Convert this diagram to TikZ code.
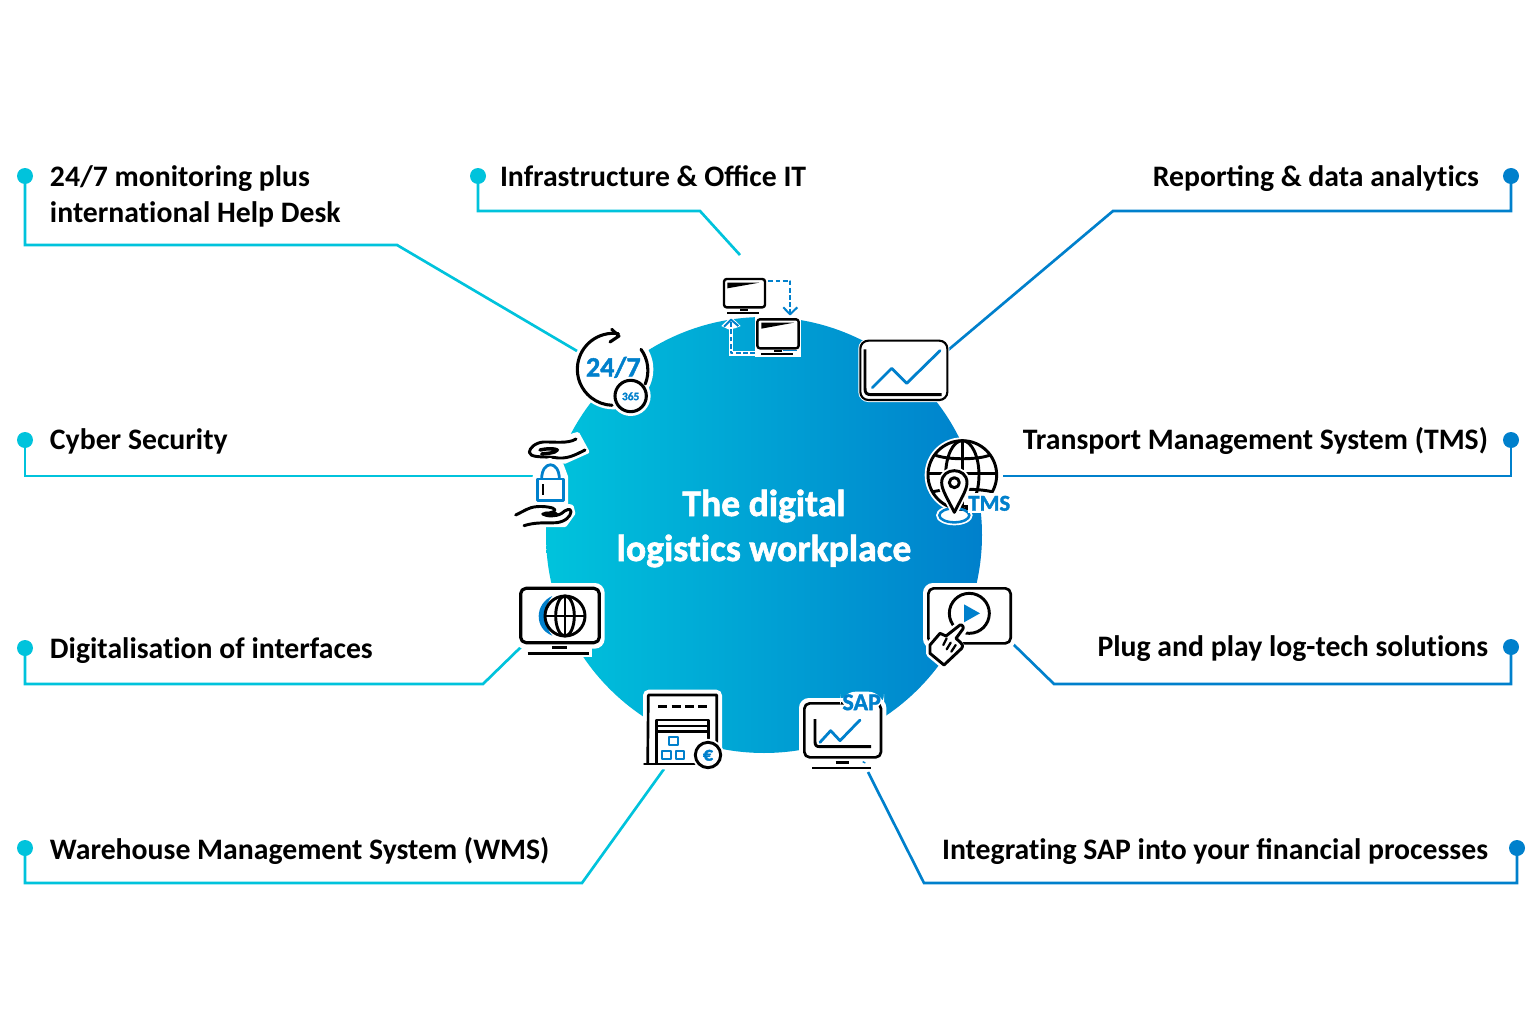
\documentclass[tikz,border=0pt]{standalone}
\usepackage{fontspec}
\setmainfont{Carlito}
\newfontfamily\icofont[BoldFeatures={FakeBold=1.6}]{Carlito}
\newcommand{\nl}{\kern0pt }
\definecolor{cy}{HTML}{00C3DC}
\definecolor{bl}{HTML}{0080CC}
\tikzset{
 x=0.75pt,y=-0.75pt,
 lab/.style={font=\fontsize{22.3}{27}\selectfont\bfseries,text=black,inner sep=0,outer sep=0},
 title/.style={font=\fontsize{28.2}{34}\icofont\selectfont\bfseries,text=white,inner sep=0},
 dotc/.style={circle,fill=cy,draw=none,minimum size=12pt,inner sep=0},
 dotb/.style={circle,fill=bl,draw=none,minimum size=12pt,inner sep=0},
 linec/.style={draw=cy,line width=2pt,line join=miter},
 lineb/.style={draw=bl,line width=2pt,line join=miter},
 ik/.style={draw=black,line width=2.2pt,line cap=round,line join=round},
 ib/.style={draw=bl,line width=2.1pt,line join=round},
 zm/.style={x=0.25pt,y=-0.25pt},
}
\begin{document}
\begin{tikzpicture}
\useasboundingbox (0,0) rectangle (1536,1024);
\fill[white] (0,0) rectangle (1536,1024);
\node[circle,minimum size=327pt,inner sep=0,left color=cy,right color=bl,draw=none] (hub) at (764,535) {};
\node[title] (t1) at (764,506) {The digital};
\node[title] (t2) at (764,551) {logist\nl ics workplace};

% dots
\node[dotc] (d1) at (25,176) {};
\node[dotc] (d2) at (478,176) {};
\node[dotb] (d3) at (1511,176) {};
\node[dotc] (d4) at (25,440) {};
\node[dotb] (d5) at (1511,440) {};
\node[dotc] (d6) at (25,648) {};
\node[dotb] (d7) at (1511,647) {};
\node[dotc] (d8) at (25,848) {};
\node[dotb] (d9) at (1517,848) {};
% connector ends
\coordinate (e1) at (577,351);
\coordinate (e2) at (740,255);
\coordinate (e3) at (947,351);
\coordinate (e4) at (533,476);
\coordinate (e5) at (1003,476);
\coordinate (e6) at (522,646);
\coordinate (e7) at (1013,644);
\coordinate (e8) at (664,769);
\coordinate (e9) at (868,772);
\draw[linec] (d1.center) -- (25,245) -- (397,245) -- (e1);
\draw[linec] (d2.center) -- (478,211) -- (700,211) -- (e2);
\draw[lineb] (d3.center) -- (1511,211) -- (1113,211) -- (e3);
\draw[linec] (d4.center) -- (25,476) -- (e4);
\draw[lineb] (d5.center) -- (1511,476) -- (e5);
\draw[linec] (d6.center) -- (25,684) -- (483,684) -- (e6);
\draw[lineb] (d7.center) -- (1511,684) -- (1054,684) -- (e7);
\draw[linec] (d8.center) -- (25,883) -- (582,883) -- (e8);
\draw[lineb] (d9.center) -- (1517,883) -- (924,883) -- (e9);

% labels
\node[lab,anchor=base west] (l1) at (50,186) {24/7 monitoring plus};
\node[lab,anchor=base west] (l1b) at (50,222) {internat\nl ional Help Desk};
\node[lab,anchor=base west] (l2) at (500,186) {Infrastructure \& Office IT};
\node[lab,anchor=base east] (l3) at (1479,186) {Reporting \& data analyt\nl ics};
\node[lab,anchor=base west] (l4) at (50,449) {Cyber Security};
\node[lab,anchor=base east] (l5) at (1488,449) {Transport Management System (TMS)};
\node[lab,anchor=base west] (l6) at (50,658) {Digitalisat\nl ion of interfaces};
\node[lab,anchor=base east] (l7) at (1488,656) {Plug and play log-tech solut\nl ions};
\node[lab,anchor=base west] (l8) at (50,859) {Warehouse Management System (WMS)};
\node[lab,anchor=base east] (l9) at (1488,859) {Integrat\nl ing SAP into your financial processes};

% ---- icons upper-left crop (24/7, lock)
\begin{scope}[shift={(500,260)},zm]
 \fill[white] (340,328) circle (120);
 \fill[white] (392,408) circle (60);
 \draw[ik,line width=2.3pt] (355,221) arc (-82:-268:108);
 \draw[ik,line width=2.3pt] (423,268) arc (-36:22:108);
 \draw[ik,line width=2.3pt] (335,208) -- (357,228) -- (330,246);
 \draw[ik,line width=2.3pt,fill=white] (392,408) circle (47);
 \node[text=bl,font=\fontsize{21}{23}\icofont\selectfont\bfseries,inner sep=0] (tf) at (340,322) {24/7};
 \node[text=bl,font=\fontsize{8.5}{9}\icofont\selectfont\bfseries,inner sep=0] (ty) at (392,409) {365};
 % hands
 \fill[white,draw=white,line width=3pt,line join=round] (205,530) -- (233,522) -- (262,575) -- (195,605) -- (85,595) -- (78,560) -- (120,535) -- cycle;
 \draw[ik] (228,537) .. controls (205,552) and (160,545) .. (130,546) .. controls (105,548) and (88,565) .. (88,577) .. controls (90,592) and (120,590) .. (160,592) .. controls (200,600) and (225,585) .. (255,570);
 \draw[ik,line width=2.6pt] (120,570) .. controls (140,565) and (165,565) .. (172,570) .. controls (165,580) and (140,580) .. (125,582);
 % lock
 \fill[white,draw=white,line width=3pt,line join=round] (104,650) -- (115,610) -- (150,600) -- (185,615) -- (198,650) -- (198,730) -- (104,730) -- cycle;
 \fill[white,draw=white,line width=3pt,line join=round] (40,770) -- (90,735) -- (170,730) -- (215,740) -- (220,760) -- (195,795) -- (120,795) -- (75,805) -- cycle;
 \draw[ib] (112,657) rectangle (190,722);
 \draw[ib] (125,657) .. controls (125,600) and (178,600) .. (178,657);
 \draw[ik,line width=1.6pt,line cap=butt] (130,672) -- (130,705);
 \draw[ik] (47,765) .. controls (75,752) and (85,742) .. (110,740) .. controls (130,738) and (165,742) .. (165,750) .. controls (165,758) and (140,760) .. (128,762) .. controls (140,770) and (170,770) .. (185,760) .. controls (195,750) and (213,742) .. (213,755) .. controls (212,770) and (195,785) .. (170,788) .. controls (140,790) and (110,785) .. (72,797);
 \draw[ik,line width=2.6pt] (135,760) -- (170,762);
\end{scope}

% ---- upper-right crop (monitors, chart, TMS)
\begin{scope}[shift={(700,260)},zm]
 % monitors
 \fill[white] (62,48) rectangle (205,170);
 \fill[white] (164,172) rectangle (303,290);
 \fill[white] (86,178) rectangle (100,287);
 \fill[white] (86,273) rectangle (175,287);
 \fill[white] (64,198) -- (93,170) -- (122,198) -- (105,205) -- (85,208) -- cycle;
 \draw[ib,line width=1.4pt,dash pattern=on 3.6pt off 1.8pt] (205,62) -- (270,62) -- (270,158);
 \draw[ib,line width=1.5pt] (250,142) -- (270,163) -- (292,142);
 \draw[ib,line width=1.4pt,dash pattern=on 3.6pt off 1.8pt] (165,280) -- (93,280) -- (93,184);
 \draw[ib,line width=1.5pt] (72,200) -- (93,179) -- (115,198);
 \draw[ik,line width=1.8pt,rounded corners=2pt] (72,57) rectangle (195,142);
 \fill[black] (82,68) -- (178,68) -- (82,85) -- cycle;
 \draw[ik,line width=1.4pt,line cap=butt] (120,150) -- (145,150);
 \draw[ik,line width=1.4pt,line cap=butt] (82,160) -- (178,160);
 \draw[ik,line width=1.8pt,rounded corners=2pt] (172,178) rectangle (296,265);
 \fill[black] (184,188) -- (282,188) -- (184,206) -- cycle;
 \draw[ik,line width=1.4pt,line cap=butt] (222,272) -- (245,272);
 \draw[ib,line width=1.0pt] (250,272) -- (290,272);
 \draw[ik,line width=1.4pt,line cap=butt] (183,282) -- (280,282);
 % chart
 \draw[black,line width=1.6pt,fill=white,rounded corners=6pt,preaction={draw=white,line width=3pt}] (481,242) rectangle (742,420);
 \draw[ik,line cap=butt] (495,268) -- (495,385) .. controls (495,400) and (500,404) .. (515,404) -- (725,404);
 \draw[ib,line cap=round] (517,383) -- (575,325) -- (620,370) -- (720,272);
 % TMS globe
 \fill[white] (787,645) circle (113);
 \fill[white] (763,766) ellipse (55 and 30);
 \draw[ik] (787,645) circle (103);
 \draw[ik] (787,645) ellipse (50 and 103);
 \draw[ik] (787,542) -- (787,748);
 \draw[ik] (705,585) .. controls (740,600) and (835,600) .. (870,585);
 \draw[ik] (686,640) -- (888,640);
 \draw[ik] (700,695) .. controls (740,685) and (835,685) .. (875,695);
 \draw[bl,line width=1.9pt] (763,766) ellipse (45 and 21);
 \draw[ik,fill=white,preaction={draw=white,line width=5pt}] (763,757) .. controls (745,720) and (725,690) .. (725,668) .. controls (725,620) and (801,620) .. (801,668) .. controls (801,690) and (781,720) .. (763,757) -- cycle;
 \draw[ik] (763,668) circle (15);
 \fill[white] (803,700) rectangle (935,760);
 \draw[ik,line cap=butt] (785,738) -- (805,738);
 \node[text=bl,font=\fontsize{17}{17}\icofont\selectfont\bfseries,inner sep=0] (tms) at (868,730) {TMS};
\end{scope}

% ---- lower-left crop (globe monitor, warehouse)
\begin{scope}[shift={(500,570)},zm]
 \draw[white,fill=white,line width=3pt,rounded corners=6pt] (50,45) rectangle (308,230);
 \fill[white] (75,228) rectangle (275,262);
 \draw[ik,line width=2.4pt,rounded corners=4pt] (62,55) rectangle (298,218);
 \draw[ik,line width=1.8pt,line cap=butt] (157,232) -- (200,232);
 \draw[ik,line width=2pt,line cap=butt] (83,250) -- (267,250);
 \fill[bl] (157,78) .. controls (105,100) and (100,175) .. (157,197) .. controls (130,170) and (130,105) .. (157,78) -- cycle;
 \draw[ik] (195,138) circle (60);
 \draw[ik] (195,138) ellipse (28 and 60);
 \draw[ik] (195,78) -- (195,198);
 \draw[ik] (136,138) -- (254,138);
 % warehouse
 \fill[white,draw=white,line width=3pt,rounded corners=3pt] (435,365) rectangle (660,592);
 \draw[ik,line width=2pt] (443,580) -- (445,375) -- (650,375) -- (650,520);
 \draw[ik,line width=2pt] (433,582) -- (585,582);
 \draw[ik,line width=1.8pt,line cap=butt,dash pattern=on 6.75pt off 3.25pt] (475,410) -- (622,410);
 \draw[ik,line width=2pt] (470,580) -- (470,450) -- (625,450) -- (625,505);
 \draw[ik,line width=1.8pt] (470,468) -- (625,468);
 \draw[ik,line width=1.8pt] (470,485) -- (625,485);
 \draw[ib,line width=1.7pt] (507,500) rectangle (533,525);
 \draw[ib,line width=1.7pt] (487,542) rectangle (512,568);
 \draw[ib,line width=1.7pt] (527,542) rectangle (552,568);
 \draw[ik,fill=white,preaction={draw=white,line width=5pt}] (624,555) circle (38);
 \node[text=bl,font=\fontsize{15}{15}\icofont\selectfont\bfseries,inner sep=0] (eu) at (624,556) {€};
\end{scope}

% ---- lower-right crop (play, SAP)
\begin{scope}[shift={(790,570)},zm]
 % play
 \draw[white,fill=white,line width=3pt,rounded corners=6pt] (405,45) rectangle (672,230);
 \draw[ik,line width=2pt,rounded corners=4pt] (415,55) rectangle (662,220);
 \draw[ik] (538,130) circle (60);
 \fill[bl] (522,103) -- (522,157) -- (570,130) -- cycle;
 \path[fill=white,draw=white,line width=6pt,line join=round] (510,165) -- (472,195) -- (450,190) -- (420,225) -- (420,250) -- (462,285) -- (515,235) -- (500,210) -- (522,175) -- cycle;
 \draw[ik] (510,165) .. controls (515,162) and (524,172) .. (518,178) -- (498,205) .. controls (520,225) and (520,225) .. (515,235) -- (462,285) -- (420,250) -- (420,225) -- (450,190) -- (468,198) -- cycle;
 \draw[ik,line width=1.7pt] (470,205) -- (460,225);
 \draw[ik,line width=1.7pt] (482,218) -- (470,238);
 \draw[ik,line width=1.7pt] (497,225) -- (484,245);
 % SAP monitor
 \draw[white,fill=white,line width=3pt,rounded corners=6pt] (33,390) rectangle (283,572);
 \fill[white] (58,570) rectangle (250,604);
 \draw[ik,line width=2pt,rounded corners=4pt] (43,400) rectangle (273,562);
 \draw[ik,line width=1.8pt,line cap=butt] (137,577) -- (178,577);
 \draw[ik,line width=1.8pt,line cap=butt] (66,594) -- (242,594);
 \draw[ik,line cap=butt] (75,447) -- (75,515) .. controls (75,527) and (80,530) .. (90,530) -- (243,530);
 \draw[ib,line cap=round] (90,517) -- (122,482) -- (150,512) -- (210,450);
 \draw[ib,line width=1pt] (218,575) -- (226,579);
 \fill[white,rounded corners=12pt] (150,365) rectangle (282,420);
 \node[text=bl,font=\fontsize{18}{18}\icofont\selectfont\bfseries,inner sep=0] (sap) at (215,397) {SAP};
\end{scope}
\end{tikzpicture}
\end{document}
